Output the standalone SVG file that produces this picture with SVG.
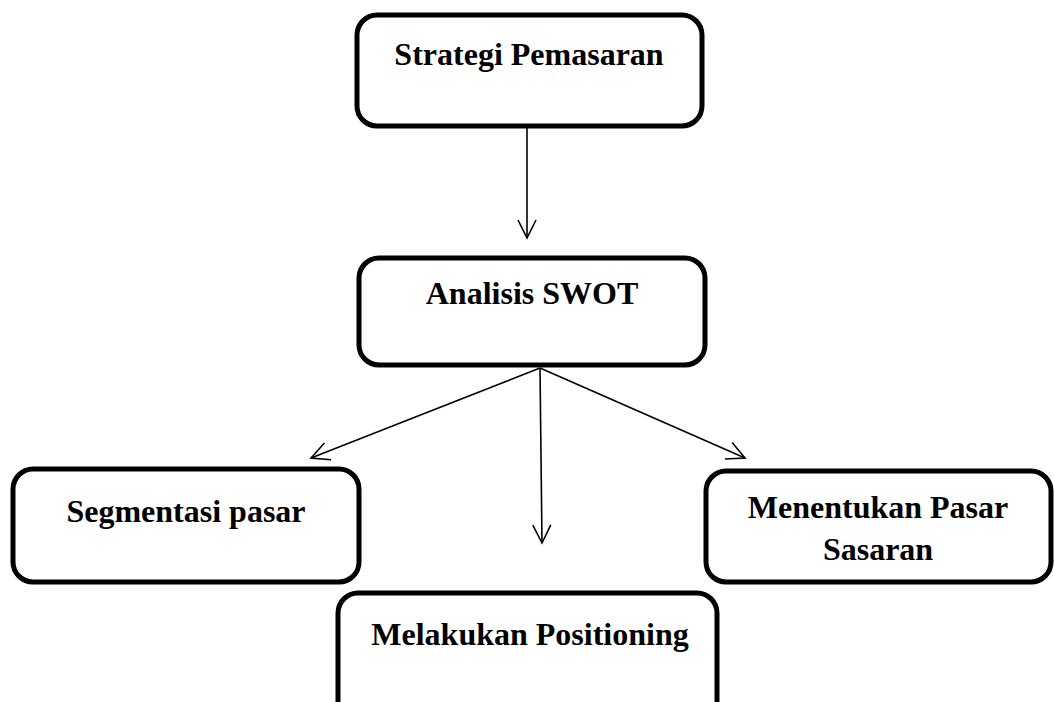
<svg xmlns="http://www.w3.org/2000/svg" width="1054" height="702" viewBox="0 0 1054 702">
<style>
.box{fill:#fff;stroke:#000;stroke-width:5}
.t{font-family:"Liberation Serif","Times New Roman",serif;font-weight:bold;font-size:32px;fill:#000;text-anchor:middle}
.c{stroke:#000;stroke-width:1.6;fill:none}
</style>
<defs>
<marker id="ah" markerWidth="24" markerHeight="24" refX="20" refY="12" orient="auto" markerUnits="userSpaceOnUse">
<path d="M2,3 L20,12 L2,21" fill="none" stroke="#000" stroke-width="1.6"/>
</marker>
</defs>
<rect width="1054" height="702" fill="#fff"/>
<g id="connectors">
<line class="c" x1="527" y1="128" x2="527" y2="238" marker-end="url(#ah)"/>
<line class="c" x1="540" y1="368" x2="311" y2="458" marker-end="url(#ah)"/>
<line class="c" x1="540" y1="368" x2="542" y2="543" marker-end="url(#ah)"/>
<line class="c" x1="540" y1="368" x2="745" y2="458" marker-end="url(#ah)"/>
</g>
<g id="n1">
<rect class="box" x="357" y="15" width="345" height="111" rx="20"/>
<text class="t" x="529" y="65">Strategi Pemasaran</text>
</g>
<g id="n2">
<rect class="box" x="359" y="258" width="346" height="107" rx="20"/>
<text class="t" x="532" y="304">Analisis SWOT</text>
</g>
<g id="n3">
<rect class="box" x="13" y="469" width="346" height="113" rx="20"/>
<text class="t" x="186" y="522">Segmentasi pasar</text>
</g>
<g id="n4">
<rect class="box" x="706" y="471" width="345" height="111" rx="20"/>
<text class="t" x="878" y="518">Menentukan Pasar</text>
<text class="t" x="878" y="560">Sasaran</text>
</g>
<g id="n5">
<rect class="box" x="338" y="593" width="379" height="130" rx="20"/>
<text class="t" x="530" y="645">Melakukan Positioning</text>
</g>
</svg>
